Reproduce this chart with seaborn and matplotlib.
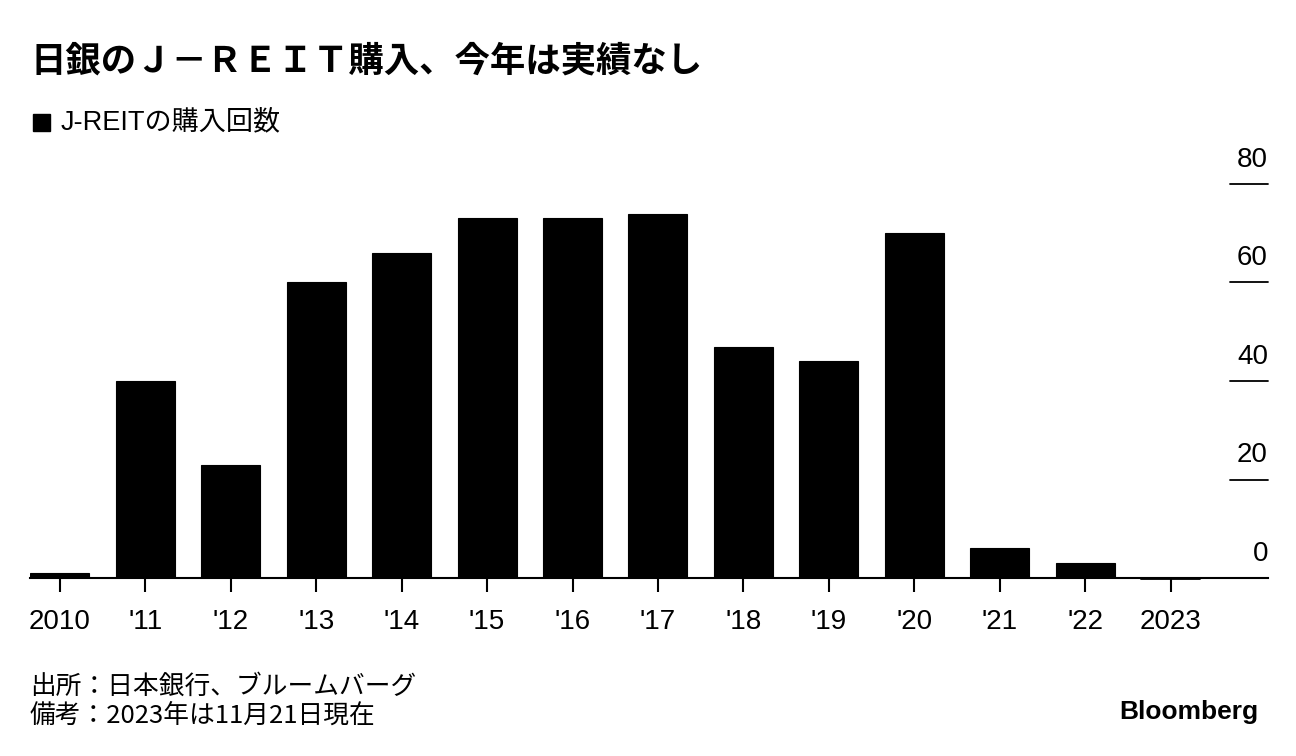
import pandas as pd
import seaborn as sns
import matplotlib.pyplot as plt
from matplotlib.patches import Rectangle

years = ["2010", "'11", "'12", "'13", "'14", "'15", "'16", "'17", "'18", "'19", "'20", "'21", "'22", "2023"]
kaisu = [1, 40, 23, 60, 66, 73, 73, 74, 47, 44, 70, 6, 3, 0]
yticks = [0, 20, 40, 60, 80]

df = pd.DataFrame({"year": years, "count": kaisu})

sns.set_style("white")
plt.rcParams['font.family'] = ['Liberation Sans', 'Noto Sans CJK JP', 'DejaVu Sans']
plt.rcParams['text.color'] = 'black'
plt.rcParams['xtick.color'] = 'black'
plt.rcParams['xtick.labelcolor'] = 'black'
cjk = ['Noto Sans CJK JP', 'DejaVu Sans']

fig = plt.figure(figsize=(12.96, 7.56), dpi=100)
ax = fig.add_axes([30/1296, 178/756, 1238/1296, 394/756])

sns.barplot(data=df, x="year", y="count", color="black", width=0.69,
            edgecolor="black", linewidth=0.8, saturation=1, ax=ax)

ax.set_xlim(-0.35, 14.14)
ax.set_ylim(0, 80)
ax.set_xlabel("")
ax.set_ylabel("")
for s in ["top", "right", "left"]:
    ax.spines[s].set_visible(False)
ax.spines["bottom"].set_linewidth(1.5)
ax.spines["bottom"].set_color("black")
ax.set_yticks([])
ax.tick_params(axis="x", bottom=True, direction="out", length=10, width=1.5,
               color="black", labelcolor="black", labelsize=20, pad=12)

# 2023年はゼロ（細線で表示）
ax.plot([13 - 0.345, 13 + 0.345], [-0.25, -0.25], color="black", lw=1.3,
        clip_on=False, zorder=3)

# 右側の目盛り線とラベル
for t in yticks:
    if t > 0:
        ax.plot([13.69, 14.14], [t, t], color="black", lw=1.3, clip_on=False)
    ax.annotate(str(t), xy=(14.14, t), xytext=(0, 8), textcoords="offset points",
                ha="right", va="bottom", fontsize=20, annotation_clip=False)

fig.text(30/1296, 1 - 62/756, "日銀のＪ－ＲＥＩＴ購入、今年は実績なし",
         fontsize=25.5, fontweight="bold", va="center")
fig.patches.append(Rectangle((33/1296, 1 - 131/756), 17/1296, 17/756,
                             transform=fig.transFigure, color="black"))
fig.text(61/1296, 1 - 122/756, "J-REITの購入回数", fontsize=19.5, va="center")
fig.text(30/1296, 1 - 687/756, "出所：日本銀行、ブルームバーグ", fontsize=18.5,
         va="center", family=cjk)
fig.text(30/1296, 1 - 716/756, "備考：2023年は11月21日現在", fontsize=18.5,
         va="center", family=cjk)
fig.text(1258/1296, 1 - 712/756, "Bloomberg", fontsize=19, fontweight="bold",
         ha="right", va="center")

plt.savefig("out.png", dpi=100)
